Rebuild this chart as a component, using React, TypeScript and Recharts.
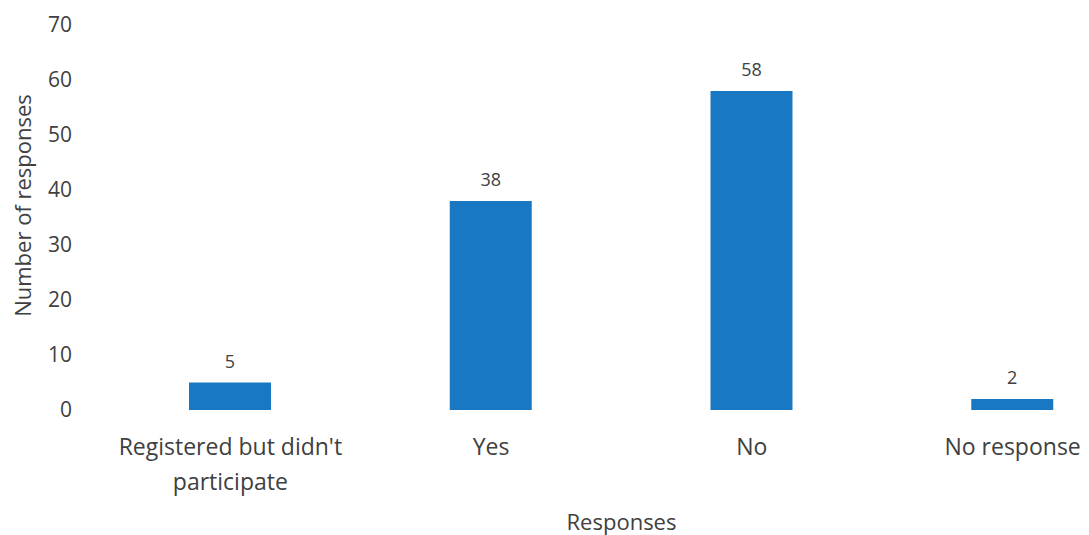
import { BarChart, Bar, XAxis, YAxis, LabelList } from "recharts";

const categories = ["Registered but didn't participate", "Yes", "No", "No response"];
const categoryLines: Record<string, string[]> = {
  "Registered but didn't participate": ["Registered but didn't", "participate"],
};
const counts = [5, 38, 58, 2];
const yTicks = [0, 10, 20, 30, 40, 50, 60, 70];

const data = categories.map((name, i) => ({ name, count: counts[i] }));

const FONT = "'Open Sans', sans-serif";
const INK = "#404040";
const BLUE = "#1a78c2";

function CategoryTick(props: any) {
  const { x, y, payload } = props;
  const lines = categoryLines[payload.value] ?? [payload.value];
  return (
    <text x={x} y={y} textAnchor="middle" fontSize={23} fontFamily={FONT} fill={INK}>
      {lines.map((line, i) => (
        <tspan key={i} x={x} dy={i === 0 ? "0.71em" : 35}>
          {line}
        </tspan>
      ))}
    </text>
  );
}

function YTitle(props: any) {
  const { viewBox } = props;
  const cx = 22;
  const cy = viewBox.y + viewBox.height / 2 - 12;
  return (
    <text
      x={cx}
      y={cy}
      transform={`rotate(-90, ${cx}, ${cy})`}
      textAnchor="middle"
      dominantBaseline="central"
      fontSize={22}
      fontFamily={FONT}
      fill={INK}
    >
      Number of responses
    </text>
  );
}

export default function App() {
  return (
    <div style={{ position: "absolute", left: 0, top: 0, background: "#fff" }}>
      <BarChart
        width={1089}
        height={535}
        data={data}
        margin={{ top: 25, right: -54, left: 0, bottom: 35 }}
        barCategoryGap={0}
      >
        <XAxis
          dataKey="name"
          axisLine={false}
          tickLine={false}
          tickSize={0}
          tickMargin={29}
          height={90}
          interval={0}
          tick={<CategoryTick />}
          label={{
            value: "Responses",
            position: "insideBottom",
            offset: -30,
            fontSize: 22,
            fontFamily: FONT,
            fill: INK,
          }}
        />
        <YAxis
          domain={[0, 70]}
          ticks={yTicks}
          axisLine={false}
          tickLine={false}
          tickSize={0}
          tickMargin={28}
          width={100}
          tick={{ fontSize: 21, fontFamily: FONT, fill: INK }}
          label={<YTitle />}
        />
        <Bar dataKey="count" fill={BLUE} barSize={82} isAnimationActive={false}>
          <LabelList
            dataKey="count"
            position="top"
            offset={15}
            fontSize={18}
            fontFamily={FONT}
            fill={INK}
          />
        </Bar>
      </BarChart>
    </div>
  );
}
